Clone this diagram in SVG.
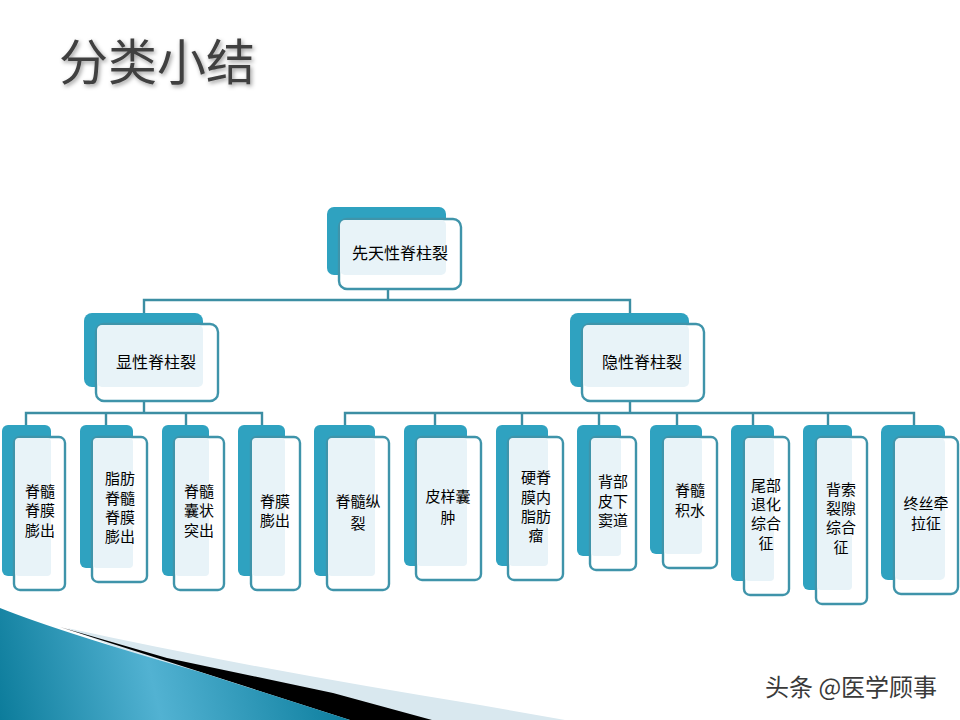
<svg xmlns="http://www.w3.org/2000/svg" width="960" height="720" viewBox="0 0 960 720">
<defs>
<style>
.b{fill:#2fa2c0}
.f{fill:#fff;stroke:#3f94aa;stroke-width:2.4}
.o{fill:#e8f3f8}
.t{font-family:"Noto Sans CJK SC","Liberation Sans",sans-serif;font-size:16px;fill:#000;text-anchor:middle}
.s{font-size:15px}
.c{fill:none;stroke:#3c8ea3;stroke-width:2.4}
</style>
<linearGradient id="g" gradientUnits="userSpaceOnUse" x1="0" y1="720" x2="340" y2="640">
<stop offset="0" stop-color="#0c7c9b"/><stop offset="0.45" stop-color="#52b2d2"/><stop offset="1" stop-color="#0a7c9c"/>
</linearGradient>
<filter id="s" x="-10%" y="-20%" width="125%" height="150%"><feDropShadow dx="1.5" dy="2" stdDeviation="2" flood-color="#000" flood-opacity="0.4"/></filter>
</defs>
<rect width="960" height="720" fill="#fff"/>
<g id="swoosh">
<path d="M67 628Q250 668 480 705L565 720H300Z" fill="#d9e8ef"/>
<path d="M60 627L167 658L333 693L432 720H350Z" fill="#000"/>
<path d="M0 608Q60 632 200 672L350 720H0Z" fill="url(#g)"/>
</g>
<text id="title" x="59" y="80" font-family="'Noto Sans CJK SC','Liberation Sans',sans-serif" font-size="49" fill="#404040" filter="url(#s)">分类小结</text>
<g id="connectors" class="c">
<path class="c" d="M388 289V300M144 313V300H630V313"/>
<path class="c" d="M144 401V413M26 425V413H262V425M106 413V425M186 413V425"/>
<path class="c" d="M630 401V413M345 425V413H914V425M435 413V425M522 413V425M599 413V425M677 413V425M753 413V425M828 413V425"/>
</g>
<g id="n0"><rect class="b" x="327" y="207" width="119" height="68" rx="7"/><rect class="f" x="339" y="219" width="122" height="70" rx="8"/><rect class="o" x="340" y="220" width="106" height="55" rx="5"/><text class="t" x="400" y="259">先天性脊柱裂</text></g>
<g id="n1"><rect class="b" x="84" y="313" width="119" height="74" rx="8"/><rect class="f" x="96" y="324" width="122" height="77" rx="8"/><rect class="o" x="97" y="325" width="106" height="62" rx="5"/><text class="t" x="156" y="368">显性脊柱裂</text></g>
<g id="n2"><rect class="b" x="570" y="313" width="119" height="74" rx="8"/><rect class="f" x="582" y="324" width="122" height="77" rx="8"/><rect class="o" x="583" y="325" width="106" height="62" rx="5"/><text class="t" x="642" y="368">隐性脊柱裂</text></g>
<g id="l1"><rect class="b" x="2" y="425" width="49" height="151" rx="6"/><rect class="f" x="14" y="437" width="51" height="153" rx="6"/><rect class="o" x="15" y="438" width="36" height="138" rx="4"/><text class="t s"><tspan x="40" y="497">脊髓</tspan><tspan x="40" y="516">脊膜</tspan><tspan x="40" y="536">膨出</tspan></text></g>
<g id="l2"><rect class="b" x="80" y="425" width="53" height="143" rx="6"/><rect class="f" x="92" y="437" width="55" height="145" rx="6"/><rect class="o" x="93" y="438" width="40" height="130" rx="4"/><text class="t s"><tspan x="120" y="484">脂肪</tspan><tspan x="120" y="504">脊髓</tspan><tspan x="120" y="523">脊膜</tspan><tspan x="120" y="542">膨出</tspan></text></g>
<g id="l3"><rect class="b" x="162" y="425" width="47" height="151" rx="6"/><rect class="f" x="174" y="437" width="50" height="153" rx="6"/><rect class="o" x="175" y="438" width="34" height="138" rx="4"/><text class="t s"><tspan x="199" y="497">脊髓</tspan><tspan x="199" y="516">囊状</tspan><tspan x="199" y="536">突出</tspan></text></g>
<g id="l4"><rect class="b" x="238" y="425" width="47" height="151" rx="6"/><rect class="f" x="251" y="437" width="49" height="153" rx="6"/><rect class="o" x="252" y="438" width="33" height="138" rx="4"/><text class="t s"><tspan x="275" y="507">脊膜</tspan><tspan x="275" y="526">膨出</tspan></text></g>
<g id="l5"><rect class="b" x="314" y="425" width="61" height="151" rx="6"/><rect class="f" x="327" y="437" width="62" height="153" rx="6"/><rect class="o" x="328" y="438" width="47" height="138" rx="4"/><text class="t s"><tspan x="358" y="507">脊髓纵</tspan><tspan x="358" y="529">裂</tspan></text></g>
<g id="l6"><rect class="b" x="404" y="425" width="63" height="141" rx="6"/><rect class="f" x="416" y="437" width="65" height="143" rx="6"/><rect class="o" x="417" y="438" width="50" height="128" rx="4"/><text class="t s"><tspan x="448" y="502">皮样囊</tspan><tspan x="448" y="523">肿</tspan></text></g>
<g id="l7"><rect class="b" x="496" y="425" width="52" height="141" rx="6"/><rect class="f" x="508" y="437" width="55" height="143" rx="6"/><rect class="o" x="509" y="438" width="39" height="128" rx="4"/><text class="t s"><tspan x="536" y="483">硬脊</tspan><tspan x="536" y="503">膜内</tspan><tspan x="536" y="522">脂肪</tspan><tspan x="536" y="541">瘤</tspan></text></g>
<g id="l8"><rect class="b" x="577" y="425" width="44" height="131" rx="6"/><rect class="f" x="590" y="437" width="46" height="133" rx="6"/><rect class="o" x="591" y="438" width="30" height="118" rx="4"/><text class="t s"><tspan x="613" y="487">背部</tspan><tspan x="613" y="507">皮下</tspan><tspan x="613" y="526">窦道</tspan></text></g>
<g id="l9"><rect class="b" x="650" y="425" width="52" height="129" rx="6"/><rect class="f" x="663" y="437" width="54" height="131" rx="6"/><rect class="o" x="664" y="438" width="38" height="116" rx="4"/><text class="t s"><tspan x="690" y="496">脊髓</tspan><tspan x="690" y="516">积水</tspan></text></g>
<g id="l10"><rect class="b" x="731" y="425" width="43" height="156" rx="6"/><rect class="f" x="744" y="437" width="45" height="158" rx="6"/><rect class="o" x="745" y="438" width="29" height="143" rx="4"/><text class="t s"><tspan x="766" y="491">尾部</tspan><tspan x="766" y="510">退化</tspan><tspan x="766" y="529">综合</tspan><tspan x="766" y="549">征</tspan></text></g>
<g id="l11"><rect class="b" x="803" y="425" width="49" height="165" rx="6"/><rect class="f" x="816" y="437" width="51" height="167" rx="6"/><rect class="o" x="817" y="438" width="35" height="152" rx="4"/><text class="t s"><tspan x="841" y="495">背索</tspan><tspan x="841" y="514">裂隙</tspan><tspan x="841" y="533">综合</tspan><tspan x="841" y="553">征</tspan></text></g>
<g id="l12"><rect class="b" x="881" y="425" width="64" height="155" rx="7"/><rect class="f" x="894" y="437" width="64" height="157" rx="7"/><rect class="o" x="895" y="438" width="50" height="142" rx="5"/><text class="t s"><tspan x="926" y="509">终丝牵</tspan><tspan x="926" y="529">拉征</tspan></text></g>
<text id="watermark" x="765" y="696" font-family="'Noto Sans CJK SC','Liberation Sans',sans-serif" font-size="24" fill="#3a3a3a">头条 @医学顾事</text>
</svg>
